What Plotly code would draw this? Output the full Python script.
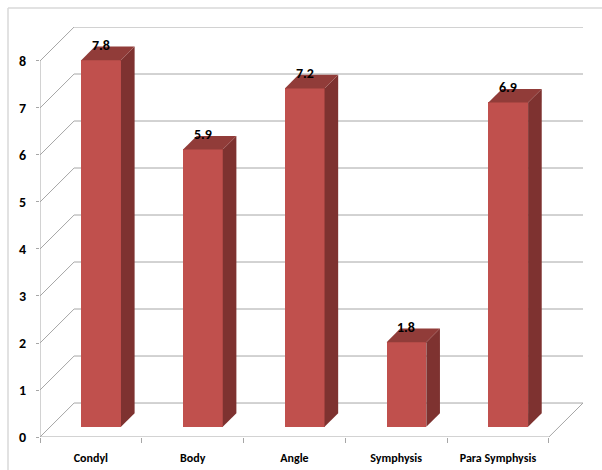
import plotly.graph_objects as go

categories = ["Condyl", "Body", "Angle", "Symphysis", "Para Symphysis"]
values = [7.8, 5.9, 7.2, 1.8, 6.9]
y_ticks = [0, 1, 2, 3, 4, 5, 6, 7, 8]

FRONT = "#C0504D"
SIDE = "#7E3230"
TOP = "#913C39"
GRID = "#A6A6A6"
FONT = "'Liberation Sans Narrow', Carlito, Calibri, Lato, sans-serif"

# 3D projection parameters (in data units)
DX = 0.335      # full depth offset along x (category units)
DY = 0.723      # full depth offset along y (value units)
F0, F1 = 0.30, 0.70   # bar front / back depth fractions
BW = 0.39       # bar width
YMAX = max(y_ticks)
n = len(categories)

fig = go.Figure()

# front faces as bars
xs_front = [i + F0 * DX for i in range(n)]
fig.add_trace(go.Bar(
    x=xs_front, y=values, base=[F0 * DY] * n, width=BW,
    marker=dict(color=FRONT, line=dict(width=0)),
    hoverinfo="skip", showlegend=False))

bdx = (F1 - F0) * DX
bdy = (F1 - F0) * DY
for i, v in enumerate(values):
    xl = xs_front[i] - BW / 2
    xr = xs_front[i] + BW / 2
    b = F0 * DY
    t = b + v
    # side face
    fig.add_trace(go.Scatter(
        x=[xr, xr, xr + bdx, xr + bdx, xr], y=[b, t, t + bdy, b + bdy, b],
        fill="toself", fillcolor=SIDE, mode="lines", line=dict(width=0),
        hoverinfo="skip", showlegend=False))
    # top face
    fig.add_trace(go.Scatter(
        x=[xl, xr, xr + bdx, xl + bdx, xl], y=[t, t, t + bdy, t + bdy, t],
        fill="toself", fillcolor=TOP, mode="lines", line=dict(width=0),
        hoverinfo="skip", showlegend=False))
    fig.add_annotation(x=xs_front[i], y=t + bdy + 0.02, text=str(v),
                       showarrow=False, yanchor="middle",
                       font=dict(family=FONT, size=14, color="black", weight="bold"))

shapes = []
L = -0.5
R = n - 0.5
line = dict(color=GRID, width=1)
# back wall gridlines and left wall diagonals
for v in y_ticks:
    shapes.append(dict(type="line", x0=L + DX, y0=v + DY, x1=R + DX, y1=v + DY,
                       line=line, layer="below"))
    shapes.append(dict(type="line", x0=L, y0=v, x1=L + DX, y1=v + DY,
                       line=line, layer="below"))
# front axis vertical
shapes.append(dict(type="line", x0=L, y0=0, x1=L, y1=YMAX, line=line, layer="below"))
# floor front edge and right edge
shapes.append(dict(type="line", x0=L, y0=0, x1=R, y1=0, line=line, layer="below"))
shapes.append(dict(type="line", x0=R, y0=0, x1=R + DX, y1=DY, line=line, layer="below"))
# chart area border (top and left)
shapes.append(dict(type="line", xref="paper", yref="paper",
                   x0=-32 / 543, y0=1 + 19 / 410, x1=1.1, y1=1 + 19 / 410,
                   line=dict(color="#D9D9D9", width=1.5)))
shapes.append(dict(type="line", xref="paper", yref="paper",
                   x0=-32 / 543, y0=1 + 19 / 410, x1=-32 / 543, y1=-0.2,
                   line=dict(color="#D9D9D9", width=1.5)))

fig.update_layout(
    width=602, height=470,
    margin=dict(l=40, r=19, t=27, b=33),
    paper_bgcolor="white", plot_bgcolor="white",
    shapes=shapes,
    bargap=0,
    xaxis=dict(range=[L, R + DX], tickvals=list(range(n)), ticktext=categories,
               showgrid=False, zeroline=False, showline=False, ticks="",
               ticklabelstandoff=12, automargin=False,
               minor=dict(tickvals=[k - 0.5 for k in range(n + 1)], ticks="outside",
                          ticklen=5, tickcolor=GRID, showgrid=False),
               tickfont=dict(family=FONT, size=12, color="black", weight="bold"),
               fixedrange=True),
    yaxis=dict(range=[0, YMAX + DY], tickvals=y_ticks,
               showgrid=False, zeroline=False, showline=False, automargin=False,
               ticks="outside", ticklen=3, tickcolor=GRID, ticklabelstandoff=7,
               tickfont=dict(family=FONT, size=14, color="black", weight="bold"),
               fixedrange=True),
)

fig.write_html("out.html")
